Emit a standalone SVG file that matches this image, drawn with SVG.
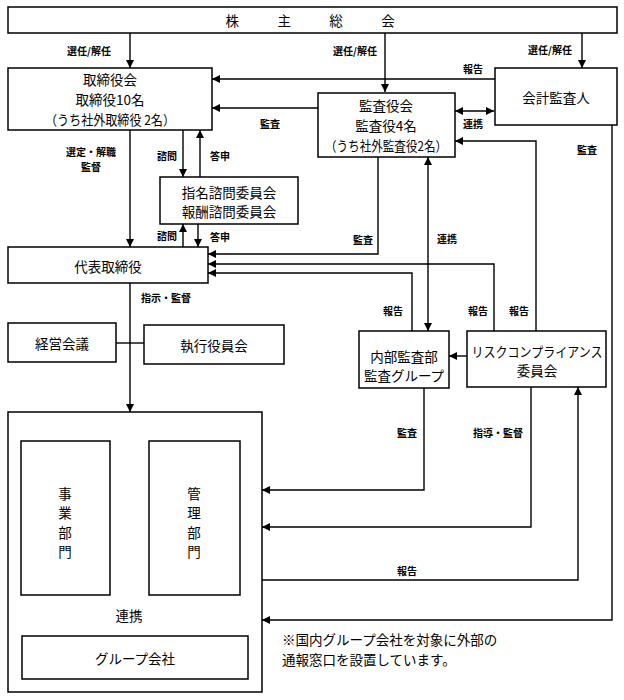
<svg xmlns="http://www.w3.org/2000/svg" width="624" height="700" viewBox="0 0 624 700">
<defs>
<marker id="ah" markerUnits="userSpaceOnUse" markerWidth="9" markerHeight="9" refX="8" refY="4" orient="auto-start-reverse">
<path d="M0,0 L8,4 L0,8 z" fill="#000"/>
</marker>
<style>
.box{fill:#fff;stroke:#000;stroke-width:1.5}
.t{font-family:"Noto Sans CJK JP","Noto Sans",sans-serif;font-size:13.5px;fill:#000;text-anchor:middle;dominant-baseline:central}
.l{font-family:"Noto Sans CJK JP","Noto Sans",sans-serif;font-size:10px;fill:#000;text-anchor:middle;dominant-baseline:central;font-weight:bold}
.c{fill:none;stroke:#000;stroke-width:1.4}
.a{marker-end:url(#ah)}
.b{marker-start:url(#ah);marker-end:url(#ah)}
.n{font-family:"Noto Sans CJK JP","Noto Sans",sans-serif;font-size:13.5px;fill:#000}
</style>
</defs>
<rect width="624" height="700" fill="#fff"/>

<g id="connectors">
<path class="c a" d="M130,33 V68"/>
<path class="c a" d="M385,33 V92"/>
<path class="c a" d="M582,33 V68"/>
<path class="c a" d="M495,79 H212"/>
<path class="c a" d="M318,108 H212"/>
<path class="c b" d="M455,111 H494"/>
<path class="c a" d="M536,331 V141 H455"/>
<path class="c a" d="M612,125 V620 H262"/>
<path class="c a" d="M130,130 V247"/>
<path class="c a" d="M183,130 V177"/>
<path class="c a" d="M200,177 V130"/>
<path class="c a" d="M183,247 V224"/>
<path class="c a" d="M198,224 V247"/>
<path class="c a" d="M378,157 V254 H208"/>
<path class="c a" d="M494,331 V264 H208"/>
<path class="c a" d="M412,331 V273 H208"/>
<path class="c b" d="M428,157 V331"/>
<path class="c a" d="M467,356 H449"/>
<path class="c a" d="M130,283 V412"/>
<path class="c" d="M116,343 H144"/>
<path class="c a" d="M424,388 V490 H262"/>
<path class="c a" d="M531,387 V527 H262"/>
<path class="c a" d="M262,580 H578 V387"/>
<path class="c a" d="M110,499 H149"/>
<path class="c a" d="M149,513 H110"/>
<path class="c a" d="M52,595 V636"/>
<path class="c a" d="M63,636 V595"/>
<path class="c a" d="M193,636 V595"/>
<path class="c a" d="M204,595 V636"/>
</g>

<g id="labels">
<text class="l" x="89" y="50">選任/解任</text>
<text class="l" x="355" y="50">選任/解任</text>
<text class="l" x="550" y="49">選任/解任</text>
<text class="l" x="473" y="68">報告</text>
<text class="l" x="270" y="123">監査</text>
<text class="l" x="473" y="123">連携</text>
<text class="l" x="587" y="149">監査</text>
<text class="l" x="91" y="151">選定・解職</text>
<text class="l" x="91" y="166">監督</text>
<text class="l" x="167" y="155">諮問</text>
<text class="l" x="220" y="155">答申</text>
<text class="l" x="167" y="235">諮問</text>
<text class="l" x="220" y="236">答申</text>
<text class="l" x="363" y="239">監査</text>
<text class="l" x="447" y="238">連携</text>
<text class="l" x="393" y="310">報告</text>
<text class="l" x="478" y="310">報告</text>
<text class="l" x="519" y="310">報告</text>
<text class="l" x="166" y="297">指示・監督</text>
<text class="l" x="407" y="432">監査</text>
<text class="l" x="498" y="432">指導・監督</text>
<text class="l" x="407" y="570">報告</text>
</g>

<g id="shareholders">
<rect class="box" x="8" y="7" width="609" height="26"/>
<text class="t" x="312" y="20" style="letter-spacing:3.8px">株　　主　　総　　会</text>
</g>

<g id="board">
<rect class="box" x="8" y="68" width="204" height="62"/>
<text class="t" x="110" y="79.4">取締役会</text>
<text class="t" x="110" y="99">取締役10名</text>
<text class="t" x="110" y="118.6" textLength="130" lengthAdjust="spacingAndGlyphs">（うち社外取締役 2名）</text>
</g>

<g id="auditboard">
<rect class="box" x="318" y="93" width="137" height="64"/>
<text class="t" x="386" y="105.4">監査役会</text>
<text class="t" x="386" y="125">監査役4名</text>
<text class="t" x="386" y="144.6" textLength="122" lengthAdjust="spacingAndGlyphs">（うち社外監査役2名）</text>
</g>

<g id="accountant">
<rect class="box" x="495" y="68" width="122" height="57"/>
<text class="t" x="556" y="97">会計監査人</text>
</g>

<g id="committees">
<rect class="box" x="160" y="177" width="138" height="47"/>
<text class="t" x="229" y="191.7">指名諮問委員会</text>
<text class="t" x="229" y="211.3">報酬諮問委員会</text>
</g>

<g id="president">
<rect class="box" x="8" y="247" width="200" height="36"/>
<text class="t" x="108" y="266">代表取締役</text>
</g>

<g id="mgmtmeeting">
<rect class="box" x="8" y="323" width="108" height="39"/>
<text class="t" x="62" y="343">経営会議</text>
</g>

<g id="officers">
<rect class="box" x="144" y="325" width="140" height="39"/>
<text class="t" x="214" y="345">執行役員会</text>
</g>

<g id="internalaudit">
<rect class="box" x="359" y="331" width="90" height="57"/>
<text class="t" x="404" y="355.7">内部監査部</text>
<text class="t" x="404" y="375.3">監査グループ</text>
</g>

<g id="riskcompliance">
<rect class="box" x="467" y="331" width="139" height="56"/>
<text class="t" x="537" y="350.7" textLength="131" lengthAdjust="spacingAndGlyphs">リスクコンプライアンス</text>
<text class="t" x="537" y="370.3">委員会</text>
</g>

<g id="groupbox">
<rect class="box" x="8" y="412" width="254" height="280"/>
<text class="t" x="129" y="615">連携</text>
</g>

<g id="business">
<rect class="box" x="21" y="441" width="89" height="154"/>
<text class="t"><tspan x="65" y="492.6">事</tspan><tspan x="65" y="512.2">業</tspan><tspan x="65" y="531.8">部</tspan><tspan x="65" y="551.4">門</tspan></text>
</g>

<g id="admin">
<rect class="box" x="149" y="441" width="91" height="154"/>
<text class="t"><tspan x="194" y="492.6">管</tspan><tspan x="194" y="512.2">理</tspan><tspan x="194" y="531.8">部</tspan><tspan x="194" y="551.4">門</tspan></text>
</g>

<g id="groupcompanies">
<rect class="box" x="22" y="636" width="226" height="43"/>
<text class="t" x="135" y="658">グループ会社</text>
</g>

<g id="note">
<text class="n" x="282" y="644.5">※国内グループ会社を対象に外部の</text>
<text class="n" x="282" y="664.5">通報窓口を設置しています。</text>
</g>
</svg>
